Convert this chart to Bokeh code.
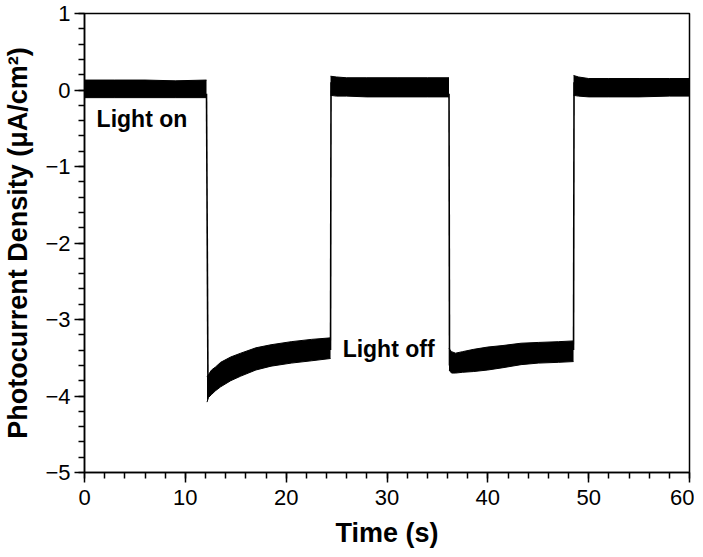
from bokeh.plotting import figure
from bokeh.models import Range1d, FixedTicker, Label
from bokeh.embed import file_html
from bokeh.resources import INLINE

# ---- data ----
x_ticks = [0, 10, 20, 30, 40, 50, 60]
x_minor = [0, 2, 4, 6, 8, 10, 12, 14, 16, 18, 20, 22, 24, 26, 28, 30, 32, 34, 36, 38, 40,
           42, 44, 46, 48, 50, 52, 54, 56, 58, 60]
y_ticks = [-5, -4, -3, -2, -1, 0, 1]
y_tick_labels = {-5: "\u22125", -4: "\u22124", -3: "\u22123", -2: "\u22122", -1: "\u22121", 0: "0", 1: "1"}

# noisy band envelopes (upper / lower) for each light period
on1_t = [0, 3, 6, 9, 12.1]
on1_up = [0.13, 0.13, 0.13, 0.12, 0.13]
on1_lo = [-0.10, -0.10, -0.10, -0.10, -0.10]

off1_t = [12.15, 12.3, 12.6, 13.0, 13.5, 14.5, 15.5, 17.0, 18.5, 20.5, 22.5, 24.4]
off1_up = [-3.75, -3.72, -3.66, -3.62, -3.56, -3.49, -3.44, -3.37, -3.33, -3.29, -3.26, -3.24]
off1_lo = [-4.08, -4.02, -3.98, -3.93, -3.88, -3.80, -3.74, -3.66, -3.61, -3.57, -3.54, -3.51]

on2_t = [24.4, 25, 26, 28, 31, 34, 36.15]
on2_up = [0.18, 0.17, 0.16, 0.16, 0.16, 0.16, 0.16]
on2_lo = [-0.07, -0.08, -0.08, -0.09, -0.09, -0.09, -0.09]

off2_t = [36.15, 36.4, 36.8, 37.5, 38.6, 40, 41.5, 43.3, 45, 47, 48.5]
off2_up = [-3.38, -3.42, -3.44, -3.42, -3.39, -3.36, -3.34, -3.31, -3.30, -3.29, -3.28]
off2_lo = [-3.66, -3.70, -3.70, -3.69, -3.68, -3.66, -3.63, -3.59, -3.57, -3.56, -3.55]

on3_t = [48.5, 49, 50, 52, 55, 58, 60]
on3_up = [0.19, 0.17, 0.15, 0.15, 0.15, 0.15, 0.15]
on3_lo = [-0.07, -0.08, -0.09, -0.09, -0.09, -0.08, -0.08]

# switching edges
edge_t0 = [12.1, 24.4, 36.15, 48.5]
edge_y0 = [-0.05, -3.40, -0.05, -3.40]
edge_t1 = [12.25, 24.45, 36.2, 48.55]
edge_y1 = [-4.00, 0.10, -3.60, 0.10]

p = figure(width=690, height=541, output_backend="svg", toolbar_location=None,
           x_range=Range1d(0, 60), y_range=Range1d(-5, 1),
           min_border_left=80, min_border_top=13, min_border_right=5, min_border_bottom=10)
p.frame_width = 605
p.frame_height = 459

for t, up, lo in [(on1_t, on1_up, on1_lo), (off1_t, off1_up, off1_lo), (on2_t, on2_up, on2_lo),
                  (off2_t, off2_up, off2_lo), (on3_t, on3_up, on3_lo)]:
    p.varea(x=t, y1=lo, y2=up, fill_color="black")
    p.line(x=t, y=up, line_color="black", line_width=1)
    p.line(x=t, y=lo, line_color="black", line_width=1)

p.segment(x0=edge_t0, y0=edge_y0, x1=edge_t1, y1=edge_y1, line_color="black", line_width=1.6)

p.xgrid.visible = False
p.ygrid.visible = False
p.outline_line_color = "black"
p.outline_line_width = 1.5

FONT = "Liberation Sans"
for ax in (p.xaxis[0], p.yaxis[0]):
    ax.axis_line_width = 1.5
    ax.major_tick_line_width = 1.5
    ax.minor_tick_line_width = 1.5
    ax.major_tick_in = 0
    ax.major_tick_out = 10
    ax.minor_tick_in = 0
    ax.minor_tick_out = 6
    ax.major_label_text_font = FONT
    ax.major_label_text_font_size = "22px"
    ax.major_label_text_color = "black"
    ax.axis_label_text_font = FONT
    ax.axis_label_text_font_style = "bold"
    ax.axis_label_text_font_size = "27px"
    ax.axis_label_text_color = "black"

p.xaxis[0].ticker = FixedTicker(ticks=x_ticks, minor_ticks=x_minor)
p.yaxis[0].ticker = FixedTicker(ticks=y_ticks,
                                minor_ticks=[round(-5 + 0.2 * i, 1) for i in range(31)])
p.yaxis[0].major_label_overrides = y_tick_labels
p.xaxis[0].axis_label = "Time (s)"
p.yaxis[0].axis_label = "Photocurrent Density (\u03bcA/cm\u00b2)"
p.xaxis[0].major_label_standoff = 7
p.yaxis[0].major_label_standoff = 4
p.xaxis[0].axis_label_standoff = 10
p.yaxis[0].axis_label_standoff = 9

p.add_layout(Label(x=1.2, y=-0.38, text="Light on", text_font=FONT, text_font_style="bold",
                   text_font_size="23px", text_baseline="middle", text_color="black"))
p.add_layout(Label(x=25.6, y=-3.38, text="Light off", text_font=FONT, text_font_style="bold",
                   text_font_size="23px", text_baseline="middle", text_color="black"))

open("out.html", "w").write(file_html(p, INLINE))
